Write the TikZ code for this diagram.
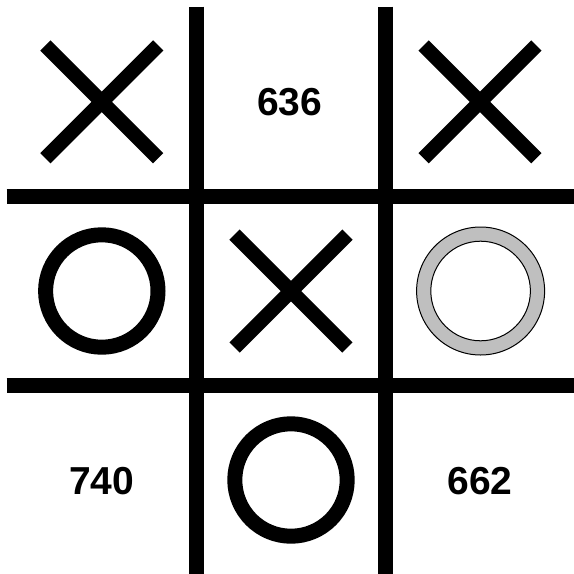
\documentclass[tikz,border=0pt]{standalone}
\usepackage{fontspec}
\setmainfont{Liberation Sans}
\begin{document}
\begin{tikzpicture}[x=1pt,y=-1pt,
  gridline/.style={line width=14.6pt,line cap=butt},
  xmark/.style={line width=14.5pt,line cap=butt},
  omark/.style={line width=15pt},
  hint/.style={draw=black,line width=1pt,fill=gray!50!white,even odd rule},
  num/.style={font=\fontsize{39}{42}\selectfont\bfseries,inner sep=0pt}]
\fill[white] (0,0) rectangle (574,574);
\useasboundingbox (0,0) rectangle (574,574);
% grid
\draw[gridline] (196.5,6.6) -- (196.5,574);
\draw[gridline] (385.5,6.6) -- (385.5,574);
\draw[gridline] (6.6,196.5) -- (574,196.5);
\draw[gridline] (6.6,385.5) -- (574,385.5);
% X marks
\foreach \cx/\cy in {101.8/101.8, 480/101.8, 291/291}{
  \draw[xmark] (\cx-56.4,\cy-56.4) -- (\cx+56.4,\cy+56.4);
  \draw[xmark] (\cx-56.4,\cy+56.4) -- (\cx+56.4,\cy-56.4);
}
% O marks
\draw[omark] (101.8,291) circle[radius=56.2];
\draw[omark] (291,480) circle[radius=56.2];
% hint ring
\path[hint] (480.6,291) circle[radius=64] (480.6,291) circle[radius=49.8];
% numbers
\node[num] (n636) at (289.6,102.2) {636};
\node[num] (n740) at (101.6,480.6) {740};
\node[num] (n662) at (480,480.6) {662};
\end{tikzpicture}
\end{document}
